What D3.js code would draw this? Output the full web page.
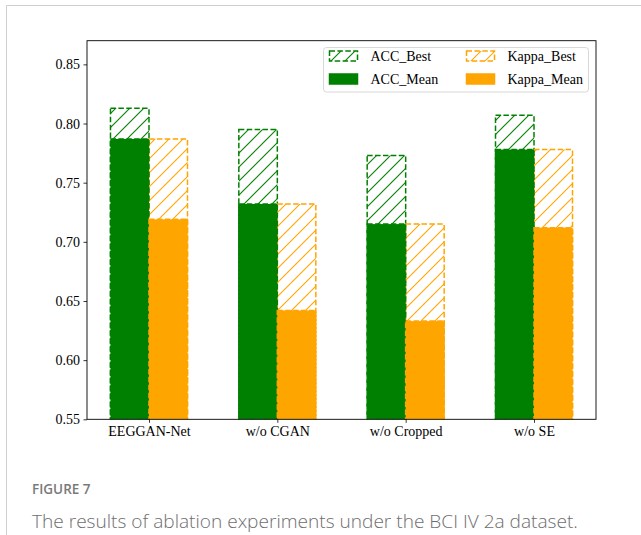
<!DOCTYPE html>
<html>
<head>
<meta charset="utf-8">
<script src="https://cdn.jsdelivr.net/npm/d3@7"></script>
<style>
  html, body { margin: 0; padding: 0; background: #fff; }
  svg { display: block; }
</style>
</head>
<body>
<svg id="chart" width="641" height="535"></svg>
<script>
// Ablation results on BCI IV 2a
const categories = ["EEGGAN-Net", "w/o CGAN", "w/o Cropped", "w/o SE"];
const accBest   = [0.813, 0.795, 0.773, 0.807];
const accMean   = [0.787, 0.732, 0.715, 0.778];
const kappaBest = [0.787, 0.732, 0.715, 0.778];
const kappaMean = [0.719, 0.642, 0.633, 0.712];
const yTicks = [0.55, 0.60, 0.65, 0.70, 0.75, 0.80, 0.85];
const seriesNames = ["ACC_Best", "ACC_Mean", "Kappa_Best", "Kappa_Mean"];

const GREEN = "#008000", ORANGE = "#FFA500";
const SERIF = "'Liberation Serif', 'Times New Roman', serif";

const svg = d3.select("#chart");

// page frame
svg.append("line").attr("x1", 6.5).attr("x2", 641).attr("y1", 5.5).attr("y2", 5.5)
  .attr("stroke", "#cfcfcf").attr("stroke-width", 1);
svg.append("line").attr("x1", 6.5).attr("x2", 6.5).attr("y1", 5.5).attr("y2", 535)
  .attr("stroke", "#cfcfcf").attr("stroke-width", 1);

const plot = { left: 87, right: 596, top: 40.7, bottom: 419.3 };
const x = d3.scaleLinear().domain([-0.483, 3.483]).range([plot.left, plot.right]);
const y = d3.scaleLinear().domain([0.55, 0.87]).range([plot.bottom, plot.top]);
const barW = 0.3;

// hatch patterns
const defs = svg.append("defs");
function hatch(id, color) {
  const s = 14;
  const p = defs.append("pattern").attr("id", id)
    .attr("patternUnits", "userSpaceOnUse").attr("width", s).attr("height", s);
  p.append("rect").attr("width", s).attr("height", s).attr("fill", "#fff");
  const g = p.append("g").attr("stroke", color).attr("stroke-width", 1.1);
  g.append("line").attr("x1", 0).attr("y1", s).attr("x2", s).attr("y2", 0);
  g.append("line").attr("x1", -s/2).attr("y1", s/2).attr("x2", s/2).attr("y2", -s/2);
  g.append("line").attr("x1", s/2).attr("y1", s*1.5).attr("x2", s*1.5).attr("y2", s/2);
}
hatch("hatchG", GREEN);
hatch("hatchO", ORANGE);

defs.append("clipPath").attr("id", "plotClip").append("rect")
  .attr("x", plot.left).attr("y", plot.top)
  .attr("width", plot.right - plot.left).attr("height", plot.bottom - plot.top);

const bars = svg.append("g").attr("clip-path", "url(#plotClip)");
const DASH = "5.5,2.4";

function drawBars(values, offset, color, best) {
  bars.append("g").selectAll("rect").data(values).join("rect")
    .attr("x", (d, i) => x(i + offset - barW / 2))
    .attr("width", x(barW) - x(0))
    .attr("y", d => y(d))
    .attr("height", d => y(0.55) - y(d) + 5)
    .attr("fill", best ? (color === GREEN ? "url(#hatchG)" : "url(#hatchO)") : color)
    .attr("stroke", color)
    .attr("stroke-width", 1.5)
    .attr("stroke-dasharray", DASH);
}
drawBars(accBest, -0.15, GREEN, true);
drawBars(kappaBest, 0.15, ORANGE, true);
drawBars(accMean, -0.15, GREEN, false);
drawBars(kappaMean, 0.15, ORANGE, false);

// axes
const yAxis = d3.axisLeft(y).tickValues(yTicks).tickFormat(d3.format(".2f"))
  .tickSizeInner(3.5).tickSizeOuter(0).tickPadding(3.5);
const xAxis = d3.axisBottom(x).tickValues(d3.range(categories.length))
  .tickFormat(i => categories[i]).tickSizeInner(3.5).tickSizeOuter(0).tickPadding(3.5);

const gy = svg.append("g").attr("transform", `translate(${plot.left},0)`).call(yAxis);
const gx = svg.append("g").attr("transform", `translate(0,${plot.bottom})`).call(xAxis);
[gx, gy].forEach(g => {
  g.select(".domain").remove();
  g.selectAll("line").attr("stroke", "#000").attr("stroke-width", 0.8);
  g.selectAll("text").attr("font-family", SERIF).attr("font-size", 14).attr("fill", "#000");
});

// spines
svg.append("rect").attr("x", plot.left).attr("y", plot.top)
  .attr("width", plot.right - plot.left).attr("height", plot.bottom - plot.top)
  .attr("fill", "none").attr("stroke", "#000").attr("stroke-width", 0.9);

// legend
const leg = svg.append("g");
leg.append("rect").attr("x", 323.5).attr("y", 47.5).attr("width", 265).attr("height", 44.5)
  .attr("rx", 3).attr("fill", "#fff").attr("stroke", "#d8d8d8").attr("stroke-width", 1);
const legItems = [
  { name: seriesNames[0], color: GREEN, best: true, col: 0, row: 0 },
  { name: seriesNames[1], color: GREEN, best: false, col: 0, row: 1 },
  { name: seriesNames[2], color: ORANGE, best: true, col: 1, row: 0 },
  { name: seriesNames[3], color: ORANGE, best: false, col: 1, row: 1 }
];
const colX = [329.5, 466.5], rowY = [56, 79];
legItems.forEach(it => {
  const px = colX[it.col], cy = rowY[it.row];
  leg.append("rect").attr("x", px).attr("y", cy - 5).attr("width", 28).attr("height", 10)
    .attr("fill", it.best ? (it.color === GREEN ? "url(#hatchG)" : "url(#hatchO)") : it.color)
    .attr("stroke", it.color).attr("stroke-width", 1.5)
    .attr("stroke-dasharray", it.best ? DASH : null);
  leg.append("text").attr("x", px + 41).attr("y", cy).attr("dy", "0.35em")
    .attr("font-family", SERIF).attr("font-size", 14).attr("fill", "#000").text(it.name);
});

// caption
svg.append("text").attr("x", 32).attr("y", 494)
  .attr("font-family", "'Open Sans', sans-serif").attr("font-weight", 600)
  .attr("font-size", 13.5).attr("fill", "#7a7a7a").text("FIGURE 7");
const cap = svg.append("text").attr("x", 32).attr("y", 528)
  .attr("font-family", "'Open Sans', sans-serif").attr("font-weight", 300)
  .attr("font-size", 18).attr("fill", "#6e6e6e")
  .text("The results of ablation experiments under the BCI IV 2a dataset.");
const w = cap.node().getComputedTextLength();
cap.attr("font-size", 18 * 546 / w);
</script>
</body>
</html>
